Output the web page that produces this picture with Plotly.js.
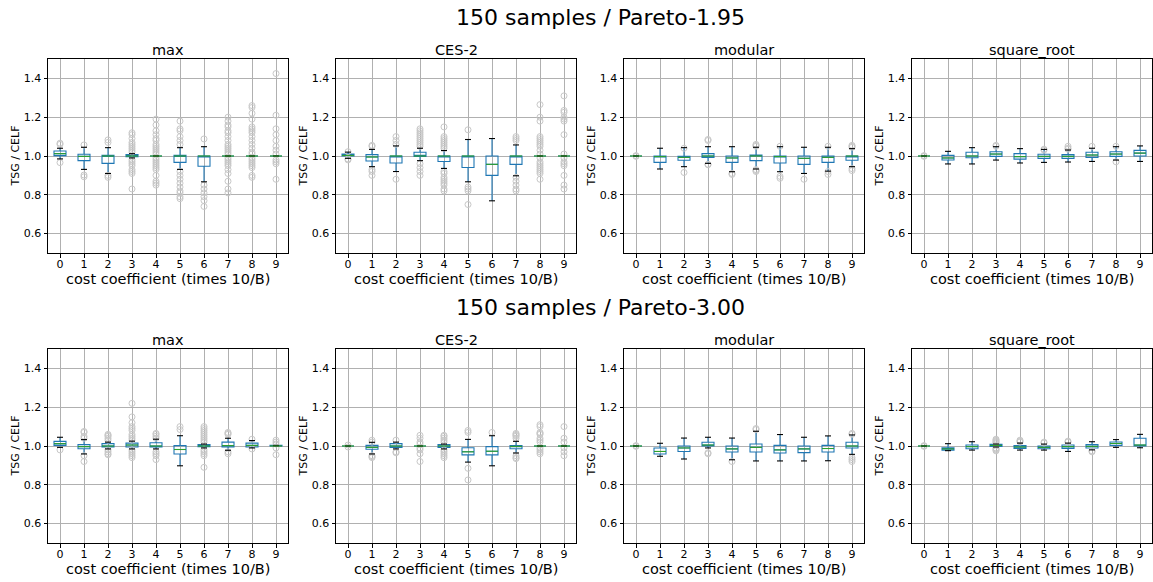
<!DOCTYPE html>
<html>
<head>
<meta charset="utf-8">
<script src="https://cdn.plot.ly/plotly-3.0.1.min.js"></script>
<style>html,body{margin:0;padding:0;background:#fff;}#chart{width:1153px;height:582px;}</style>
</head>
<body>
<div id="chart"></div>
<script>
// categories (cost coefficient, times 10/B)
const categories = [0, 1, 2, 3, 4, 5, 6, 7, 8, 9];
const rowTitles = ['150 samples / Pareto-1.95', '150 samples / Pareto-3.00'];
const panelNames = ['max', 'CES-2', 'modular', 'square_root'];
const xTitle = 'cost coefficient (times 10/B)';
const yTitle = 'TSG / CELF';
const yTickVals = [0.6, 0.8, 1.0, 1.2, 1.4];
const yTickText = ['0.6', '0.8', '1.0', '1.2', '1.4'];

// ---------- Pareto-1.95 ----------
// max
const a_max_lo  = [0.985, 0.931, 0.910, 0.990, 1.0, 0.931, 0.867, 1.0, 1.0, 1.0];
const a_max_q1  = [1.002, 0.976, 0.962, 0.997, 1.0, 0.967, 0.947, 1.0, 1.0, 1.0];
const a_max_med = [1.012, 0.998, 1.000, 1.000, 1.0, 1.000, 1.000, 1.0, 1.0, 1.0];
const a_max_q3  = [1.026, 1.009, 1.003, 1.008, 1.0, 1.003, 1.000, 1.0, 1.0, 1.0];
const a_max_hi  = [1.040, 1.045, 1.043, 1.012, 1.0, 1.043, 1.048, 1.0, 1.0, 1.0];
const a_max_out = [
  [1.060, 1.066, 0.966],
  [1.057, 0.902, 0.893],
  [1.083, 1.070, 0.900, 0.890],
  [1.12, 1.11, 1.09, 1.07, 1.06, 1.05, 1.04, 1.03, 1.02, 0.98, 0.97, 0.96, 0.95, 0.93, 0.92, 0.91, 0.83],
  [1.19, 1.16, 1.13, 1.11, 1.09, 1.08, 1.06, 1.05, 1.04, 1.03, 1.02, 1.01, 0.99, 0.98, 0.97, 0.96, 0.95, 0.94, 0.93, 0.90, 0.87, 0.86, 0.85],
  [1.18, 1.14, 1.13, 1.10, 1.08, 1.06, 0.92, 0.90, 0.88, 0.86, 0.84, 0.82, 0.81, 0.79, 0.78],
  [1.088, 0.85, 0.83, 0.81, 0.79, 0.77, 0.74],
  [1.20, 1.18, 1.16, 1.15, 1.13, 1.12, 1.10, 1.08, 1.06, 1.05, 1.04, 1.03, 1.02, 1.01, 0.99, 0.98, 0.97, 0.96, 0.95, 0.93, 0.91, 0.87, 0.83, 0.81],
  [1.26, 1.25, 1.22, 1.19, 1.15, 1.14, 1.13, 1.12, 1.10, 1.08, 1.06, 1.04, 1.02, 1.01, 0.99, 0.98, 0.97, 0.96, 0.95, 0.94, 0.90, 0.89],
  [1.425, 1.21, 1.14, 1.11, 1.08, 1.05, 1.03, 1.01, 0.98, 0.97, 0.96, 0.88]
];
// CES-2
const a_ces_lo  = [0.988, 0.945, 0.920, 0.976, 0.936, 0.867, 0.769, 0.898, 1.0, 1.0];
const a_ces_q1  = [1.000, 0.974, 0.964, 0.998, 0.972, 0.941, 0.900, 0.957, 1.0, 1.0];
const a_ces_med = [1.003, 0.995, 1.000, 1.000, 1.000, 1.000, 0.957, 1.000, 1.0, 1.0];
const a_ces_q3  = [1.010, 1.007, 1.000, 1.019, 1.000, 1.000, 1.000, 1.000, 1.0, 1.0];
const a_ces_hi  = [1.020, 1.034, 1.052, 1.040, 1.028, 1.085, 1.090, 1.057, 1.0, 1.0];
const a_ces_out = [
  [1.022, 0.985, 0.980],
  [1.055, 1.050, 0.930, 0.920, 0.900],
  [1.10, 1.08, 1.06, 0.88],
  [1.14, 1.13, 1.12, 1.11, 1.10, 1.09, 1.08, 1.07, 1.06, 1.05, 0.96, 0.94, 0.92, 0.90],
  [1.15, 1.10, 1.09, 1.08, 1.07, 1.06, 1.05, 1.04, 0.92, 0.91, 0.89, 0.88, 0.87, 0.86, 0.85, 0.83, 0.82],
  [1.135, 0.84, 0.83, 0.82, 0.75],
  [],
  [1.10, 1.09, 1.08, 0.89, 0.87, 0.85, 0.83, 0.82],
  [1.265, 1.20, 1.18, 1.10, 1.09, 1.08, 1.07, 1.06, 1.05, 1.03, 1.01, 0.99, 0.97, 0.96, 0.95, 0.94, 0.93, 0.92, 0.91, 0.88],
  [1.31, 1.235, 1.225, 1.20, 1.19, 1.18, 1.11, 1.01, 0.99, 0.97, 0.96, 0.95, 0.90, 0.85, 0.83]
];
// modular
const a_mod_lo  = [1.0, 0.933, 0.945, 0.962, 0.919, 0.933, 0.919, 0.910, 0.922, 0.945];
const a_mod_q1  = [1.0, 0.967, 0.978, 0.993, 0.967, 0.976, 0.964, 0.957, 0.967, 0.978];
const a_mod_med = [1.0, 0.997, 0.993, 1.000, 0.990, 1.000, 0.997, 0.988, 0.993, 1.000];
const a_mod_q3  = [1.0, 1.000, 0.998, 1.012, 1.000, 1.005, 1.000, 1.000, 1.000, 1.000];
const a_mod_hi  = [1.0, 1.040, 1.043, 1.048, 1.048, 1.045, 1.048, 1.045, 1.045, 1.038];
const a_mod_out = [
  [1.002, 1.0, 0.998],
  [],
  [1.040, 0.915],
  [1.080, 1.085, 0.957, 0.955],
  [0.910, 0.905],
  [1.060, 1.055, 1.050, 0.930, 0.925, 0.920],
  [1.050, 0.895, 0.885],
  [0.880],
  [1.050, 0.920, 0.905],
  [1.055, 1.050, 1.045, 0.935, 0.925]
];
// square_root
const a_sqr_lo  = [1.0, 0.959, 0.959, 0.979, 0.964, 0.967, 0.969, 0.972, 0.979, 0.972];
const a_sqr_q1  = [1.0, 0.979, 0.991, 0.998, 0.984, 0.988, 0.988, 0.993, 0.998, 1.000];
const a_sqr_med = [1.0, 0.990, 1.000, 1.010, 0.997, 0.998, 0.998, 1.005, 1.010, 1.015];
const a_sqr_q3  = [1.0, 1.003, 1.019, 1.022, 1.012, 1.009, 1.007, 1.019, 1.022, 1.029];
const a_sqr_hi  = [1.0, 1.024, 1.043, 1.048, 1.038, 1.034, 1.031, 1.040, 1.048, 1.052];
const a_sqr_out = [
  [1.002, 1.0, 0.998],
  [],
  [],
  [1.055, 1.050],
  [],
  [1.035, 1.030],
  [1.050, 1.040, 1.035],
  [1.050],
  [1.050, 0.970],
  []
];

// ---------- Pareto-3.00 ----------
// max
const b_max_lo  = [0.993, 0.959, 0.985, 0.985, 0.985, 0.898, 0.990, 0.978, 0.990, 1.000];
const b_max_q1  = [1.003, 0.986, 0.995, 0.995, 0.995, 0.959, 0.997, 0.995, 0.995, 1.000];
const b_max_med = [1.012, 0.997, 1.000, 1.005, 1.000, 0.982, 1.000, 1.002, 1.003, 1.000];
const b_max_q3  = [1.024, 1.007, 1.012, 1.015, 1.017, 1.002, 1.007, 1.020, 1.015, 1.003];
const b_max_hi  = [1.045, 1.033, 1.020, 1.025, 1.035, 1.053, 1.010, 1.040, 1.028, 1.003];
const b_max_out = [
  [0.980],
  [1.075, 1.070, 1.050, 1.040, 0.950, 0.920],
  [1.060, 1.055, 1.050, 1.040, 1.030, 0.980, 0.970, 0.960, 0.955],
  [1.22, 1.15, 1.12, 1.10, 1.09, 1.08, 1.06, 1.05, 1.04, 1.03, 0.98, 0.97, 0.96, 0.95, 0.94],
  [1.065, 1.060, 1.050, 1.040, 0.970, 0.960, 0.950, 0.930],
  [1.100, 1.085],
  [1.10, 1.09, 1.08, 1.07, 1.06, 1.05, 1.04, 1.03, 1.02, 0.98, 0.97, 0.96, 0.95, 0.89],
  [1.070, 1.065, 1.060, 0.970, 0.960],
  [1.035, 0.985],
  [1.030, 1.020, 1.010, 0.990, 0.955]
];
// CES-2
const b_ces_lo  = [1.0, 0.959, 0.985, 1.0, 0.985, 0.917, 0.898, 0.964, 1.0, 1.0];
const b_ces_q1  = [1.0, 0.983, 0.993, 1.0, 0.993, 0.954, 0.954, 0.986, 1.0, 1.0];
const b_ces_med = [1.0, 0.993, 1.000, 1.0, 1.000, 0.970, 0.973, 0.998, 1.0, 1.0];
const b_ces_q3  = [1.0, 1.003, 1.012, 1.0, 1.007, 0.991, 0.997, 1.002, 1.0, 1.0];
const b_ces_hi  = [1.0, 1.019, 1.020, 1.0, 1.010, 1.034, 1.053, 1.024, 1.0, 1.0];
const b_ces_out = [
  [1.005, 0.995],
  [1.030, 1.020, 0.950, 0.945, 0.940],
  [1.030, 0.970, 0.965],
  [1.055, 1.040, 1.020, 1.010, 0.990, 0.980, 0.960, 0.920],
  [1.055, 1.050, 1.040, 1.030, 1.020, 0.980, 0.970, 0.960, 0.950, 0.940],
  [1.080, 1.070, 0.885, 0.825],
  [1.070],
  [1.065, 1.060, 1.055, 1.050, 1.040, 0.950, 0.940, 0.935],
  [1.11, 1.10, 1.07, 1.065, 1.06, 1.04, 1.03, 1.02, 0.99, 0.98, 0.97, 0.96],
  [1.10, 1.04, 1.02, 0.99, 0.97, 0.95]
];
// modular
const b_mod_lo  = [1.0, 0.947, 0.933, 0.990, 0.929, 0.923, 0.923, 0.923, 0.924, 0.957];
const b_mod_q1  = [1.0, 0.959, 0.972, 1.000, 0.969, 0.969, 0.964, 0.966, 0.969, 0.990];
const b_mod_med = [1.0, 0.972, 0.990, 1.005, 0.985, 0.993, 0.980, 0.985, 0.987, 1.000];
const b_mod_q3  = [1.0, 0.990, 1.000, 1.019, 1.000, 1.010, 1.003, 1.000, 1.003, 1.019];
const b_mod_hi  = [1.0, 1.014, 1.041, 1.045, 1.041, 1.076, 1.059, 1.045, 1.052, 1.057];
const b_mod_out = [
  [1.002, 1.0, 0.998],
  [],
  [],
  [0.965, 0.960],
  [0.920],
  [1.090, 1.085],
  [],
  [],
  [],
  [1.065, 1.060, 0.940, 0.930, 0.920]
];
// square_root
const b_sqr_lo  = [1.0, 0.976, 0.979, 0.995, 0.979, 0.979, 0.972, 0.980, 0.993, 0.991];
const b_sqr_q1  = [1.0, 0.978, 0.986, 0.998, 0.988, 0.986, 0.988, 0.990, 1.003, 1.000];
const b_sqr_med = [1.0, 0.985, 0.997, 1.003, 0.995, 0.993, 0.997, 0.998, 1.013, 1.005];
const b_sqr_q3  = [1.0, 0.991, 1.005, 1.009, 1.002, 1.000, 1.005, 1.007, 1.021, 1.040];
const b_sqr_hi  = [1.0, 1.012, 1.022, 1.010, 1.015, 1.010, 1.015, 1.022, 1.033, 1.060];
const b_sqr_out = [
  [1.002, 1.0, 0.998],
  [],
  [],
  [1.035, 1.030, 1.025, 1.020, 1.015, 0.990, 0.985, 0.980, 0.975],
  [1.030, 1.025, 1.020],
  [1.020, 1.015],
  [1.025, 1.020],
  [0.975, 0.970],
  [],
  []
];

const panelData = [
  [a_max_lo, a_max_q1, a_max_med, a_max_q3, a_max_hi, a_max_out],
  [a_ces_lo, a_ces_q1, a_ces_med, a_ces_q3, a_ces_hi, a_ces_out],
  [a_mod_lo, a_mod_q1, a_mod_med, a_mod_q3, a_mod_hi, a_mod_out],
  [a_sqr_lo, a_sqr_q1, a_sqr_med, a_sqr_q3, a_sqr_hi, a_sqr_out],
  [b_max_lo, b_max_q1, b_max_med, b_max_q3, b_max_hi, b_max_out],
  [b_ces_lo, b_ces_q1, b_ces_med, b_ces_q3, b_ces_hi, b_ces_out],
  [b_mod_lo, b_mod_q1, b_mod_med, b_mod_q3, b_mod_hi, b_mod_out],
  [b_sqr_lo, b_sqr_q1, b_sqr_med, b_sqr_q3, b_sqr_hi, b_sqr_out]
];

// ---------- layout geometry ----------
const W = 1153, H = 582;
const colPx = [[48, 288], [336, 576], [624, 864], [912, 1152]];
const rowPx = [[59, 253], [349, 543]];
const FONT = 'DejaVu Sans, sans-serif';
const py = p => (H - p) / H;
const px = p => p / W;

const traces = [];
const layout = {
  width: W, height: H,
  margin: {l: 0, r: 0, t: 0, b: 0},
  paper_bgcolor: '#ffffff', plot_bgcolor: '#ffffff',
  showlegend: false,
  font: {family: FONT, color: '#000000', size: 11},
  annotations: []
};

const BOXW = 0.5, CAPW = 0.25;

panelData.forEach((pd, k) => {
  const r = Math.floor(k / 4), c = k % 4;
  const n = k + 1;
  const xa = 'x' + (n === 1 ? '' : n), ya = 'y' + (n === 1 ? '' : n);
  const [lo, q1, med, q3, hi, outs] = pd;

  // outliers
  const ox = [], oy = [];
  outs.forEach((arr, i) => arr.forEach(v => { ox.push(categories[i]); oy.push(v); }));
  traces.push({
    type: 'scatter', mode: 'markers', x: ox, y: oy, xaxis: xa, yaxis: ya,
    marker: {symbol: 'circle-open', size: 6, color: '#c8c8c8', line: {width: 1, color: '#c8c8c8'}},
    hoverinfo: 'skip'
  });

  // boxes + whiskers
  traces.push({
    type: 'box', x: categories, q1: q1, median: med, q3: q3,
    lowerfence: lo, upperfence: hi, xaxis: xa, yaxis: ya,
    width: BOXW, whiskerwidth: 0, boxpoints: false,
    line: {color: '#1f77b4', width: 1.1}, fillcolor: 'rgba(0,0,0,0)',
    hoverinfo: 'skip'
  });

  // caps (black)
  const cx = [], cy = [];
  categories.forEach((x, i) => {
    cx.push(x - CAPW / 2, x + CAPW / 2, null, x - CAPW / 2, x + CAPW / 2, null);
    cy.push(hi[i], hi[i], null, lo[i], lo[i], null);
  });
  traces.push({
    type: 'scatter', mode: 'lines', x: cx, y: cy, xaxis: xa, yaxis: ya,
    line: {color: '#000000', width: 1.1}, hoverinfo: 'skip', connectgaps: false
  });

  // medians (green)
  const mx = [], my = [];
  categories.forEach((x, i) => {
    mx.push(x - BOXW / 2, x + BOXW / 2, null);
    my.push(med[i], med[i], null);
  });
  traces.push({
    type: 'scatter', mode: 'lines', x: mx, y: my, xaxis: xa, yaxis: ya,
    line: {color: '#2ca02c', width: 1.1}, hoverinfo: 'skip', connectgaps: false
  });

  const xd = [px(colPx[c][0]), px(colPx[c][1])];
  const yd = [py(rowPx[r][1]), py(rowPx[r][0])];
  const xkey = 'xaxis' + (n === 1 ? '' : n), ykey = 'yaxis' + (n === 1 ? '' : n);
  layout[xkey] = {
    domain: xd, anchor: ya, range: [-0.5, 9.5], fixedrange: true,
    tickmode: 'array', tickvals: categories, ticktext: categories.map(String),
    ticks: 'outside', ticklen: 3.5, tickwidth: 1, tickcolor: '#000',
    ticklabelstandoff: -3,
    showgrid: true, gridcolor: '#b0b0b0', gridwidth: 1,
    showline: true, linecolor: '#000', linewidth: 1, mirror: true, zeroline: false,
    tickfont: {family: FONT, size: 11, color: '#000'}
  };
  layout[ykey] = {
    domain: yd, anchor: xa, range: [0.5, 1.5], fixedrange: true,
    tickmode: 'array', tickvals: yTickVals, ticktext: yTickText,
    ticks: 'outside', ticklen: 3.5, tickwidth: 1, tickcolor: '#000',
    showgrid: true, gridcolor: '#b0b0b0', gridwidth: 1,
    showline: true, linecolor: '#000', linewidth: 1, mirror: true, zeroline: false,
    tickfont: {family: FONT, size: 11, color: '#000'}
  };

  // subplot title
  layout.annotations.push({
    xref: 'paper', yref: 'paper', x: (xd[0] + xd[1]) / 2, y: py(rowPx[r][0] - 9),
    xanchor: 'center', yanchor: 'middle', showarrow: false,
    text: panelNames[c], font: {family: FONT, size: 14.5, color: '#000'}
  });
  // x-axis title
  layout.annotations.push({
    xref: 'paper', yref: 'paper', x: (xd[0] + xd[1]) / 2, y: py(rowPx[r][1] + 26),
    xanchor: 'center', yanchor: 'middle', showarrow: false,
    text: xTitle, font: {family: FONT, size: 14.5, color: '#000'}
  });
  // y-axis title
  layout.annotations.push({
    xref: 'paper', yref: 'paper', x: px(colPx[c][0] - 32.5), y: (yd[0] + yd[1]) / 2,
    xanchor: 'center', yanchor: 'middle', showarrow: false, textangle: -90,
    text: yTitle, font: {family: FONT, size: 11, color: '#000'}
  });
});

// row titles
rowTitles.forEach((t, r) => {
  layout.annotations.push({
    xref: 'paper', yref: 'paper', x: px(600), y: py(r === 0 ? 17 : 307),
    xanchor: 'center', yanchor: 'middle', showarrow: false,
    text: t, font: {family: FONT, size: 22, color: '#000'}
  });
});

Plotly.newPlot('chart', traces, layout, {staticPlot: true, displayModeBar: false});
</script>
</body>
</html>
